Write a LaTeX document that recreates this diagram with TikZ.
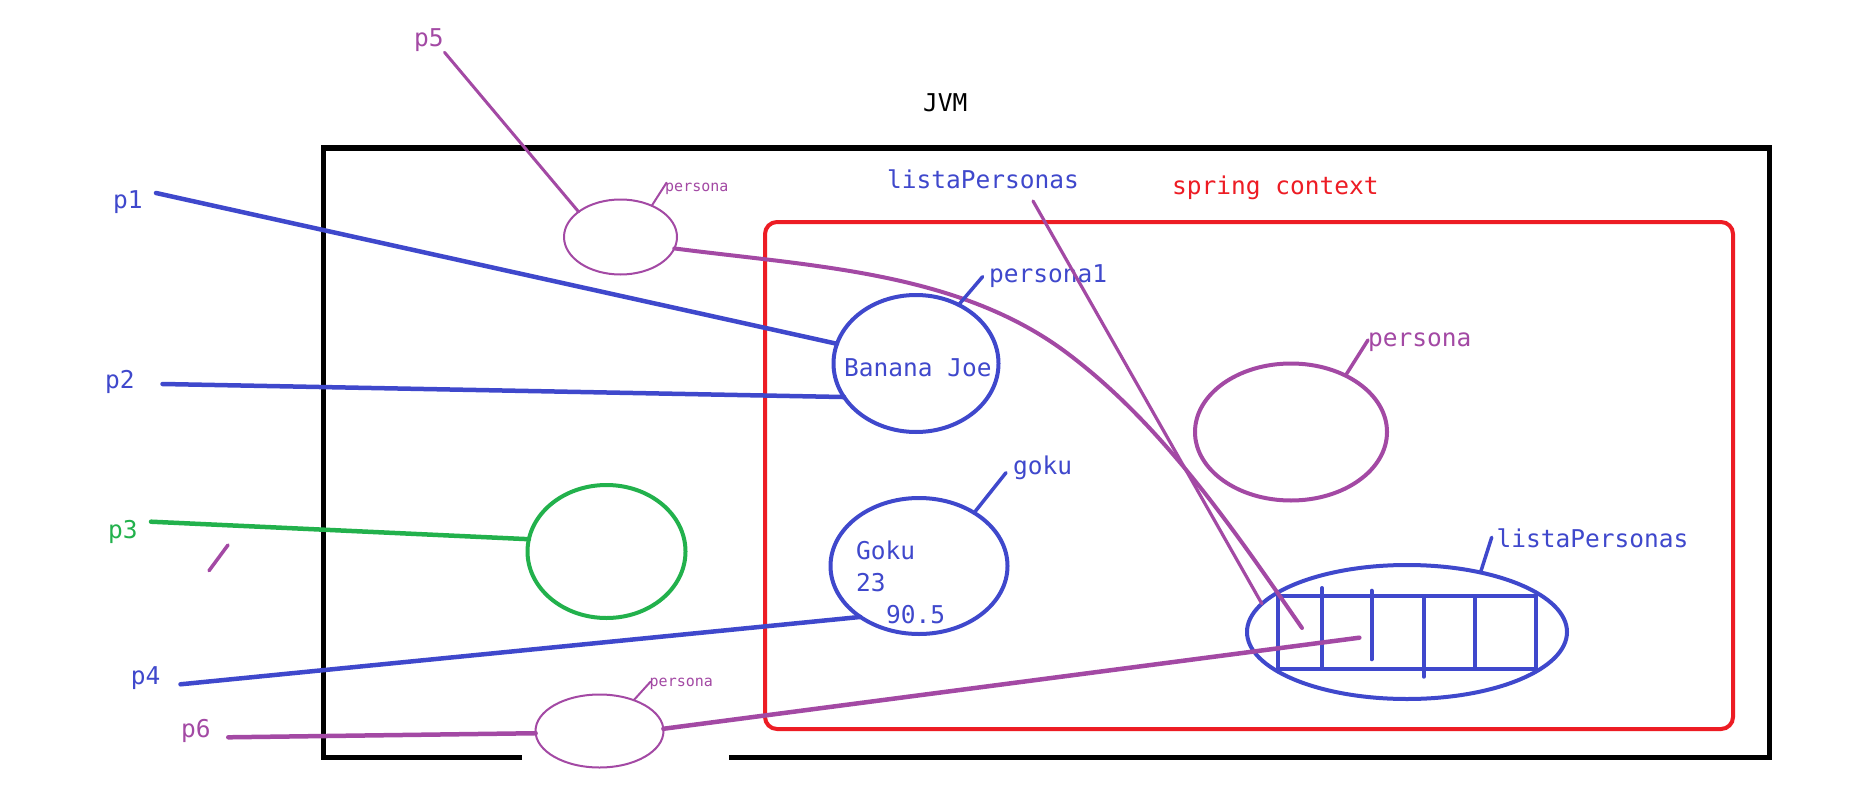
\documentclass[tikz,border=0pt]{standalone}
\usepackage{fontspec}
\newfontfamily\hand{DejaVu Sans Mono}
\usetikzlibrary{shapes.geometric}
\definecolor{pblue}{HTML}{3F48CC}
\definecolor{ppurple}{HTML}{A349A4}
\definecolor{pgreen}{HTML}{22B14C}
\definecolor{pred}{HTML}{ED1C24}
\begin{document}
\begin{tikzpicture}[x=1pt,y=-1pt,
  lab/.style={inner sep=0pt, anchor=mid west, font=\hand\fontsize{24.5}{28}\selectfont},
  slab/.style={inner sep=0pt, anchor=mid west, font=\hand\fontsize{15}{18}\selectfont},
  blob/.style={ellipse, draw, inner sep=0pt, outer sep=0pt, line width=4pt},
  thinblob/.style={ellipse, draw, inner sep=0pt, outer sep=0pt, line width=2pt},
  wire/.style={line width=4.5pt, line cap=round},
  leader/.style={line width=3.5pt, line cap=round},
  thinleader/.style={line width=2pt, line cap=round},
]
\useasboundingbox (0,0) rectangle (1860,797);
\fill[white] (0,0) rectangle (1860,797);

% JVM box with gap at the bottom
\draw[line width=5pt] (522,757) -- (323,757) -- (323,148) -- (1769,148) -- (1769,757) -- (729,757);
% spring context box
\draw[pred, line width=4pt, rounded corners=12pt] (765,222) rectangle (1733,729);

% ellipses
\node[thinblob, draw=ppurple, minimum width=113, minimum height=75] (e5) at (620.5,237) {};
\node[blob, draw=pblue, minimum width=165, minimum height=137] (bj) at (916,363.5) {};
\node[blob, draw=pgreen, minimum width=158, minimum height=133] (gr) at (606.5,551.5) {};
\node[blob, draw=pblue, minimum width=177, minimum height=136] (gk) at (919,566) {};
\node[thinblob, draw=ppurple, minimum width=128, minimum height=73] (e6) at (599.5,731) {};
\node[blob, draw=ppurple, minimum width=192, minimum height=137] (pr) at (1291,432) {};
\node[blob, draw=pblue, minimum width=320, minimum height=134] (ls) at (1407,632) {};

% list inside listaPersonas
\draw[pblue, line width=4pt] (1278.4,595.7) rectangle (1536.3,669.3);
\draw[pblue, line width=4pt, line cap=round] (1322,588) -- (1322,667);
\draw[pblue, line width=4pt, line cap=round] (1371.5,590.7) -- (1371.5,659.3);
\draw[pblue, line width=4pt, line cap=round] (1423.8,596.7) -- (1423.8,676.7);
\draw[pblue, line width=4pt, line cap=round] (1474.7,596.7) -- (1474.7,667.3);

% texts
\node[lab, ppurple] (p5) at (414,44) {p5};
\node[slab, ppurple] (ps5) at (665,189) {persona};
\node[lab] (jvm) at (923,109) {JVM};
\node[lab, pblue] (lpt) at (887,186) {listaPersonas};
\node[lab, pred] (sc) at (1172,192.5) {spring context};
\node[lab, pblue] (p1) at (113,206) {p1};
\node[lab, pblue] (pa1) at (989,280) {persona1};
\node[lab, pblue] (bjt) at (844,374) {Banana Joe};
\node[lab, ppurple] (prl) at (1368,344) {persona};
\node[lab, pblue] (p2) at (105,386.5) {p2};
\node[lab, pblue] (gkl) at (1013,472) {goku};
\node[lab, pgreen] (p3) at (108,536) {p3};
\node[lab, pblue] (g1) at (856,557) {Goku};
\node[lab, pblue] (g2) at (856,589) {23};
\node[lab, pblue] (g3) at (886,621) {90.5};
\node[lab, pblue] (lpb) at (1496.5,545) {listaPersonas};
\node[lab, pblue] (p4) at (130.6,682) {p4};
\node[slab, ppurple] (ps6) at (649.5,684) {persona};
\node[lab, ppurple] (p6) at (181,735.5) {p6};

% connector free ends
\coordinate (p1s) at (156,193);
\coordinate (p2s) at (162.5,384);
\coordinate (p3s) at (151,521.7);
\coordinate (p4s) at (180.5,684.3);
\coordinate (p6s) at (228.3,737.3);
\coordinate (p5s) at (444.5,52.3);
\coordinate (l6) at (1359.3,637.7);
\coordinate (lc) at (1302,628);
\coordinate (lps) at (1033,201);
\coordinate (ps5s) at (666.5,182.7);
\coordinate (pa1s) at (982.6,276.7);
\coordinate (gkls) at (1006,472.7);
\coordinate (prls) at (1368,340);
\coordinate (lpbs) at (1491.7,537.3);
\coordinate (ps6s) at (650.5,681.7);
\coordinate (mA) at (228,545);
\coordinate (mB) at (209,570.7);

% connectors
\draw[wire, pblue] (p1s) -- (bj.166);
\draw[wire, pblue] (p2s) -- (bj.205);
\draw[wire, pgreen] (p3s) -- (gr.171);
\draw[wire, pblue] (p4s) -- (gk.221);
\draw[wire, ppurple] (p6s) -- (e6.182);
\draw[wire, ppurple] (e6.2) -- (l6);
\draw[leader, ppurple, line width=3pt] (p5s) -- (e5.149);
\draw[wire, ppurple, line width=4pt] (e5.348) .. controls (815,266.6) and (959,272) .. (1067,353) .. controls (1163,425) and (1233.6,529.6) .. (lc);
\draw[leader, ppurple, line width=3.2pt] (lps) -- (ls.169.5);

% leaders
\draw[thinleader, ppurple] (ps5s) -- (e5.45);
\draw[leader, pblue] (pa1s) -- (bj.54);
\draw[leader, pblue] (gkls) -- (gk.44);
\draw[leader, ppurple] (prls) -- (pr.46);
\draw[leader, pblue] (lpbs) -- (ls.39);
\draw[thinleader, ppurple] (ps6s) -- (e6.42);

% stray stroke
\draw[leader, ppurple] (mA) -- (mB);
\end{tikzpicture}
\end{document}
